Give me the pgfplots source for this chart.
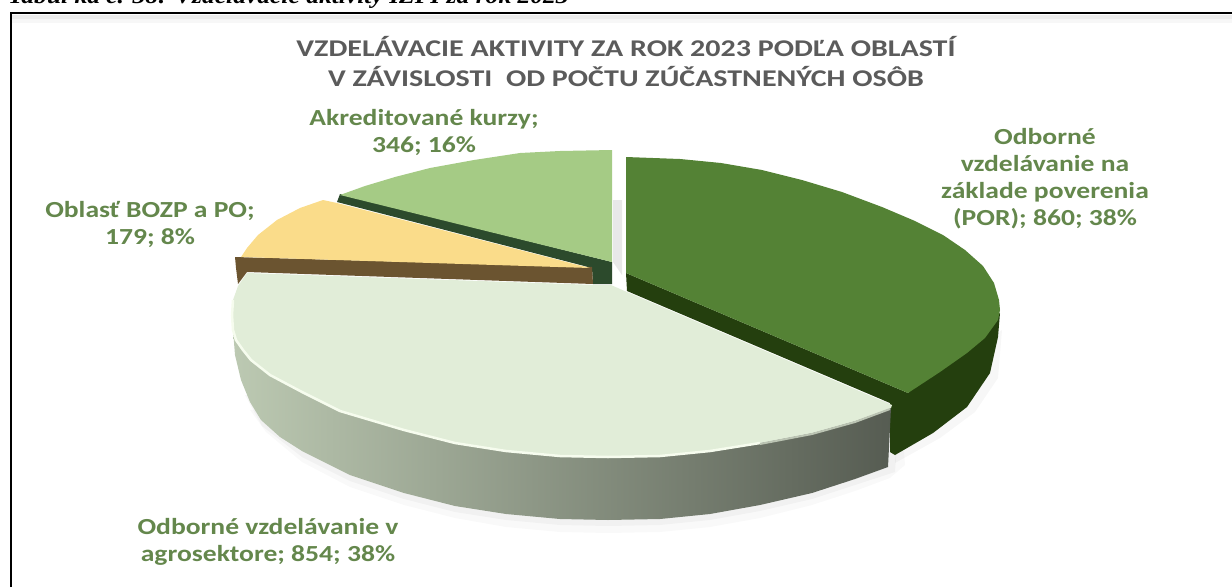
\documentclass[border=0pt]{standalone}
\usepackage{pgfplots}
\pgfplotsset{compat=1.18}
\usepackage{fontspec}
\setmainfont{Carlito}
\newfontfamily\labfont[FakeStretch=1.2]{Carlito}
\newfontfamily\titfont[FakeStretch=1.25]{Carlito}
\newfontfamily\capfont[FakeStretch=1.11]{Liberation Serif}
\definecolor{titlegray}{HTML}{5B5B5B}
\definecolor{labgreen}{HTML}{64874C}
\definecolor{por}{HTML}{548235}
\definecolor{porwall}{HTML}{243F0E}
\definecolor{kurzy}{HTML}{A5CB85}
\definecolor{kurzywall}{HTML}{2C4A2C}
\definecolor{bozp}{HTML}{FADC8A}
\definecolor{bozpwall}{HTML}{6B5430}
\definecolor{agro}{HTML}{E1EDD8}
\definecolor{rim}{HTML}{F6FCEE}
\definecolor{rimdark}{HTML}{BBC4B3}
\definecolor{wallL}{HTML}{BCC9B2}
\definecolor{wallM}{HTML}{8F9A88}
\definecolor{wallR}{HTML}{565C52}
\begin{document}
\begin{tikzpicture}
\path[use as bounding box,clip] (0,0) rectangle (1232pt,587pt);
\begin{axis}[
  at={(0,0)}, anchor=south west,
  scale only axis, width=1232pt, height=587pt,
  xmin=0, xmax=1232, ymin=0, ymax=587, y dir=reverse,
  hide axis, clip=false,
]
% faint band under the frame
\addplot[draw=none, fill=black!7] coordinates {(12,15) (1232,15) (1232,19) (12,19)} -- cycle;
\addplot[draw=none, fill=black!3] coordinates {(12,19) (1232,19) (1232,23) (12,23)} -- cycle;

% soft shadow under the pie
\addplot[draw=none, fill=black, opacity=0.025] coordinates {
(250,410) (266,432) (302,462) (350,487) (404,505) (455,518) (506,527) (560,532) (608,533)
(660,532) (710,527) (760,518) (812,505) (855,491) (890,478) (905,465) (900,400)} -- cycle;
\addplot[draw=none, fill=black, opacity=0.03] coordinates {
(245,395) (262,426) (302,457) (350,481) (404,499) (455,512) (506,520) (560,525) (608,526)
(660,525) (710,520) (760,511) (812,499) (855,485) (895,472) (900,400)} -- cycle;
\addplot[draw=none, fill=black, opacity=0.03] coordinates {
(1002,330) (998,378) (975,412) (940,438) (895,463) (900,400)} -- cycle;
% gap shadow
\addplot[draw=none, fill=black!9] coordinates {(613,200) (622,200) (622,275) (613,262)} -- cycle;

% Odborne vzdelavanie na zaklade poverenia (POR): 860; 38%
\addplot[draw=none, fill=porwall] coordinates {
(626,273) (627,291) (890,403) (890,452) (895,455) (933,433) (967,407) (990,373) (998,337)
(1000,313) (908,393)} -- cycle;
\addplot[draw=none, fill=por] coordinates {
(626,157) (680,159) (721,163) (762,170) (802,180) (842,192) (882,207) (915,221) (943,235)
(965,250) (983,266) (994,283) (999,300) (1000,310) (998,320) (985,338) (967,353) (940,372)
(908,393) (626,273)} -- cycle;

% Akreditovane kurzy: 346; 16%
\addplot[draw=none, fill=kurzywall] coordinates {(340,194) (612,262) (612,284) (593,284) (592,268) (337,202)} -- cycle;
\addplot[draw=none, fill=kurzy] coordinates {
(612,150) (560,151) (520,153) (474,160) (430,168) (395,177) (365,186) (340,195) (612,262)} -- cycle;

% Oblast BOZP a PO: 179; 8%
\addplot[draw=none, fill=bozpwall] coordinates {
(235,257) (592,267) (593,284) (247,272) (238,284) (236,268)} -- cycle;
\addplot[draw=none, fill=bozp] coordinates {
(323,200) (300,208) (277,220) (258,235) (247,248) (241,257) (590,268) (337,203)} -- cycle;

% Odborne vzdelavanie v agrosektore: 854; 38%
\addplot[draw=none, left color=wallL, middle color=wallM, right color=wallR] coordinates {
(233,330) (235,355) (241,380) (250,402) (261,420) (280,437) (302,451) (350,475) (404,493)
(455,506) (506,514) (560,519) (608,520) (660,519) (710,514) (760,505) (812,493) (855,479)
(888,467) (891,408) (855,421) (812,433) (760,443) (710,451) (660,456) (608,457) (560,456)
(506,451) (455,443) (404,430) (340,411) (302,392) (270,375) (251,360) (243,350)} -- cycle;
\addplot[draw=none, fill=agro] coordinates {
(238,286) (247,273) (597,285) (611,285) (627,292) (892,405) (891,408) (855,421) (812,433)
(760,443) (710,451) (660,456) (608,457) (560,456) (506,451) (455,443) (404,430) (340,411)
(302,392) (270,375) (251,360) (243,350) (236,340) (233,330) (232,315) (233,300)} -- cycle;
\addplot[rim, line width=2.5pt] coordinates {
(233,300) (232,315) (233,330) (236,340) (243,350) (251,360) (270,375) (302,392) (340,411)
(404,430) (455,443) (506,451) (560,456) (608,457) (660,456) (710,451) (760,443)};
\addplot[rimdark, line width=2pt] coordinates {(760,444) (812,434) (855,422) (890,409)};

% frame
\addplot[black, line width=1.5pt] coordinates {(11,587) (11,13) (1232,13)};

\tikzset{lab/.style={align=center, inner sep=0pt, text=labgreen,
  font=\labfont\fontsize{23}{27}\selectfont\bfseries}}
\node[align=center, inner sep=0pt, text=titlegray, font=\titfont\fontsize{24}{30}\selectfont\bfseries]
  at (axis cs:626,62)
  {VZDELÁVACIE AKTIVITY ZA ROK 2023 PODĽA OBLASTÍ\\V ZÁVISLOSTI\ \ OD POČTU ZÚČASTNENÝCH OSÔB};
\node[lab] at (axis cs:424,132) {Akreditované kurzy;\\346; 16\%};
\node[lab] at (axis cs:150,224) {Oblasť BOZP a PO;\\179; 8\%};
\node[lab] at (axis cs:1045,179) {Odborné\\vzdelávanie na\\základe poverenia\\(POR); 860; 38\%};
\node[lab] at (axis cs:268,542) {Odborné vzdelávanie v\\agrosektore; 854; 38\%};
\node[anchor=base west, inner sep=0pt, font=\capfont\fontsize{23}{25}\selectfont\bfseries\itshape]
  at (axis cs:8,3) {Tabuľka č. 38: Vzdelávacie aktivity IZPI za rok 2023};
\end{axis}
\end{tikzpicture}
\end{document}
